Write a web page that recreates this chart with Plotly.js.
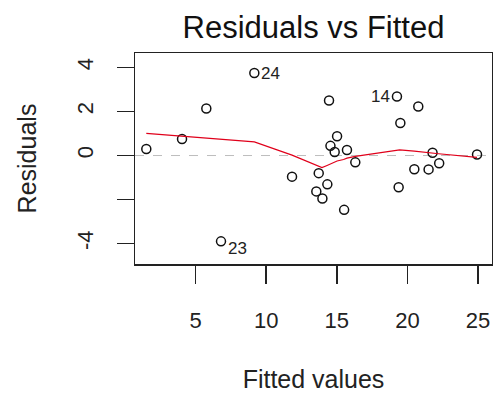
<!DOCTYPE html>
<html>
<head>
<meta charset="utf-8">
<script src="https://cdn.plot.ly/plotly-3.0.1.min.js"></script>
<style>
  html, body { margin: 0; padding: 0; background: #ffffff; }
  #chart { width: 493px; height: 394px; }
</style>
</head>
<body>
<div id="chart"></div>
<script>
// Fitted values and residuals of the linear model
var fitted = [1.51, 4.04, 5.76, 9.16, 6.80, 11.83, 14.45, 19.26, 20.77, 19.50,
              15.02, 14.55, 14.85, 15.72, 16.31, 13.72, 14.33, 13.55, 13.98, 15.52,
              19.38, 20.49, 21.50, 21.78, 22.25, 24.93];
var residuals = [0.30, 0.75, 2.14, 3.75, -3.90, -0.96, 2.50, 2.68, 2.23, 1.48,
                 0.88, 0.44, 0.16, 0.25, -0.31, -0.80, -1.31, -1.63, -1.95, -2.47,
                 -1.44, -0.62, -0.63, 0.13, -0.35, 0.05];
// Observation numbers flagged on the plot (largest residuals)
var obsIds = ["", "", "", "24", "23", "", "", "14", "", "", "", "", "", "", "", "", "", "", "", "", "", "", "", "", "", ""];

// Smoothed (lowess) trend of residuals against fitted values
var smoothX = [1.51, 4.04, 5.76, 6.80, 9.16, 11.83, 13.55, 13.72, 13.95, 14.31, 14.61,
               14.85, 15.02, 15.48, 15.72, 16.31, 19.26, 19.38, 19.45, 20.49, 20.73,
               21.50, 21.74, 22.21, 24.93];
var smoothY = [1.01, 0.87, 0.78, 0.72, 0.62, 0.02, -0.45, -0.52, -0.55, -0.45, -0.35,
               -0.30, -0.25, -0.18, -0.12, -0.04, 0.22, 0.24, 0.26, 0.20, 0.18,
               0.15, 0.13, 0.08, -0.08];

// Axis ticks
var xTicks = [5, 10, 15, 20, 25];
var yTicks = [-4, -2, 0, 2, 4];
var yTickText = ["-4", "", "0", "2", "4"];

var FONT = "'Liberation Sans', Arial, sans-serif";

var traces = [
  {
    x: fitted, y: residuals, type: "scatter", mode: "markers",
    marker: { symbol: "circle-open", size: 9, color: "#111111", line: { width: 1.5, color: "#111111" } },
    hoverinfo: "x+y", showlegend: false
  },
  {
    x: smoothX, y: smoothY, type: "scatter", mode: "lines",
    line: { color: "#e0001b", width: 1.2 },
    hoverinfo: "skip", showlegend: false
  }
];

// Labels beside flagged points: left of the point on the right half, right otherwise;
// labels of negative residuals drop slightly below the point
var annotations = [];
var midX = (Math.min.apply(null, fitted) + Math.max.apply(null, fitted)) / 2;
for (var i = 0; i < fitted.length; i++) {
  if (!obsIds[i]) continue;
  var onRight = fitted[i] > midX;
  annotations.push({
    x: fitted[i], y: residuals[i], xref: "x", yref: "y",
    text: obsIds[i], showarrow: false,
    xanchor: onRight ? "right" : "left",
    xshift: onRight ? -5 : 5,
    yshift: residuals[i] < 0 ? -7 : 0,
    font: { family: FONT, size: 17, color: "#222222" }
  });
}

var layout = {
  width: 493, height: 394,
  margin: { l: 135, r: 1, t: 53, b: 130 },
  paper_bgcolor: "#ffffff", plot_bgcolor: "#ffffff",
  font: { family: FONT, color: "#222222" },
  title: {
    text: "Residuals vs Fitted",
    font: { family: FONT, size: 31, color: "#111111" },
    x: 0.5, xref: "paper", xanchor: "center",
    y: 1 - 27 / 394, yref: "container", yanchor: "middle"
  },
  xaxis: {
    range: [0.71, 25.99],
    tickvals: xTicks, ticktext: xTicks.map(String),
    ticks: "outside", ticklen: 18, tickwidth: 1.5, tickcolor: "#222222",
    tickfont: { family: FONT, size: 22, color: "#222222" },
    ticklabelstandoff: 18,
    showgrid: false, zeroline: false,
    showline: true, mirror: true, linecolor: "#222222", linewidth: 1.5,
    automargin: false,
    title: { text: "Fitted values", font: { family: FONT, size: 25, color: "#222222" }, standoff: 38 }
  },
  yaxis: {
    range: [-4.93, 4.66],
    tickvals: yTicks, ticktext: yTickText,
    tickangle: -90,
    ticks: "outside", ticklen: 17, tickwidth: 1.5, tickcolor: "#222222",
    tickfont: { family: FONT, size: 22, color: "#222222" },
    ticklabelstandoff: 15,
    showgrid: false, zeroline: false,
    showline: true, mirror: true, linecolor: "#222222", linewidth: 1.5,
    automargin: false,
    title: { text: "Residuals", font: { family: FONT, size: 25, color: "#222222" }, standoff: 29 }
  },
  shapes: [
    { type: "line", xref: "paper", x0: 0, x1: 1, yref: "y", y0: 0, y1: 0,
      line: { color: "#bdbdbd", width: 1, dash: "dash" }, layer: "below" }
  ],
  annotations: annotations
};

Plotly.newPlot("chart", traces, layout, { displayModeBar: false, staticPlot: true });
</script>
</body>
</html>
